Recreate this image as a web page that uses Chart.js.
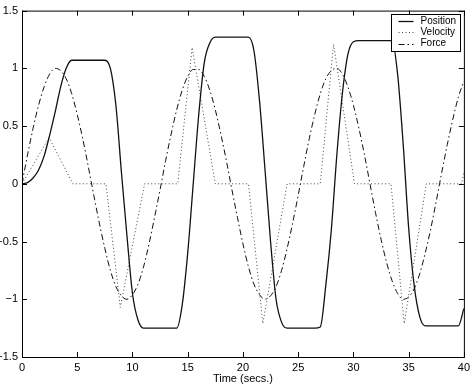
<!DOCTYPE html>
<html>
<head>
<meta charset="utf-8">
<script src="https://cdn.jsdelivr.net/npm/chart.js@4"></script>
<style>
  html, body { margin: 0; padding: 0; background: #fff; }
  #wrap { width: 474px; height: 386px; }
</style>
</head>
<body>
<div id="wrap"><canvas id="plot" width="474" height="386"></canvas></div>
<script>
// sample times (s) for position and force
const timeGrid = [
  0, 0.5, 1, 1.5, 2, 2.5, 3, 3.5, 4, 4.5,
  5, 5.5, 6, 6.5, 7, 7.5, 8, 8.5, 9, 9.5,
  10, 10.5, 11, 11.5, 12, 12.5, 13, 13.5, 14, 14.5,
  15, 15.5, 16, 16.5, 17, 17.5, 18, 18.5, 19, 19.5,
  20, 20.5, 21, 21.5, 22, 22.5, 23, 23.5, 24, 24.5,
  25, 25.5, 26, 26.5, 27, 27.5, 28, 28.5, 29, 29.5,
  30, 30.5, 31, 31.5, 32, 32.5, 33, 33.5, 34, 34.5,
  35, 35.5, 36, 36.5, 37, 37.5, 38, 38.5, 39, 39.5,
  40
];

const positionVals = [
  0, 0.01, 0.05, 0.12, 0.24, 0.42, 0.62, 0.84, 1.00, 1.07,
  1.07, 1.07, 1.07, 1.07, 1.07, 1.07, 1.00, 0.68, 0.10, -0.45,
  -0.95, -1.18, -1.25, -1.25, -1.25, -1.25, -1.25, -1.25, -1.25, -1.05,
  -0.60, 0.00, 0.60, 1.05, 1.22, 1.27, 1.27, 1.27, 1.27, 1.27,
  1.27, 1.27, 1.15, 0.72, 0.12, -0.50, -1.00, -1.20, -1.25, -1.25,
  -1.25, -1.25, -1.25, -1.25, -1.24, -0.88, -0.40, 0.25, 0.78, 1.12,
  1.23, 1.24, 1.24, 1.24, 1.24, 1.24, 1.24, 1.24, 0.95, 0.35,
  -0.38, -0.88, -1.15, -1.23, -1.23, -1.23, -1.23, -1.23, -1.23, -1.23,
  -1.08
];

const forceVals = [
  0, 0.25, 0.48, 0.68, 0.84, 0.95, 1.00, 0.98, 0.91, 0.78,
  0.60, 0.39, 0.15, -0.10, -0.34, -0.56, -0.75, -0.89, -0.97, -1.00,
  -0.96, -0.87, -0.72, -0.52, -0.29, -0.05, 0.20, 0.43, 0.64, 0.81,
  0.93, 0.99, 0.99, 0.93, 0.81, 0.64, 0.43, 0.20, -0.05, -0.29,
  -0.52, -0.72, -0.87, -0.96, -1.00, -0.97, -0.89, -0.75, -0.56, -0.34,
  -0.10, 0.15, 0.39, 0.60, 0.78, 0.91, 0.98, 1.00, 0.95, 0.84,
  0.68, 0.48, 0.25, 0.00, -0.25, -0.48, -0.68, -0.84, -0.95, -1.00,
  -0.98, -0.91, -0.78, -0.60, -0.39, -0.15, 0.10, 0.34, 0.56, 0.75,
  0.89
];

// velocity is piecewise linear, so only its corners
const velocityTimes = [0, 2.45, 4.6, 7.6, 8.9, 11.1, 14.1, 15.4, 17.5, 20.5, 21.8, 24.0, 27.0, 28.2, 30.1, 33.4, 34.6, 36.6, 39.8, 40];
const velocityVals  = [0, 0.40, 0, 0, -1.07, 0, 0, 1.18, 0, 0, -1.21, 0, 0, 1.21, 0, 0, -1.21, 0, 0, 0.10];

const xTicks = [0, 5, 10, 15, 20, 25, 30, 35, 40];
const yTicks = [-1.5, -1, -0.5, 0, 0.5, 1, 1.5];
const seriesNames = ['Position', 'Velocity', 'Force'];

const FONT = '"Liberation Sans", Arial, sans-serif';

function pairs(xs, ys) {
  return xs.map((x, i) => ({ x: x, y: ys[i] }));
}

// box round the plot, ticks pointing inward, and the legend
const framePlugin = {
  id: 'frame',
  afterDraw(chart) {
    const ctx = chart.ctx;
    const a = chart.chartArea;
    const xs = chart.scales.x, ys = chart.scales.y;
    ctx.save();
    ctx.strokeStyle = '#000';
    ctx.lineWidth = 1;
    ctx.setLineDash([]);
    ctx.strokeRect(a.left + 0.5, a.top + 0.5, a.right - a.left, a.bottom - a.top);
    const tl = 5;
    ctx.beginPath();
    xTicks.forEach(v => {
      const px = Math.round(xs.getPixelForValue(v)) + 0.5;
      ctx.moveTo(px, a.bottom); ctx.lineTo(px, a.bottom - tl);
      ctx.moveTo(px, a.top); ctx.lineTo(px, a.top + tl);
    });
    yTicks.forEach(v => {
      const py = Math.round(ys.getPixelForValue(v)) + 0.5;
      ctx.moveTo(a.left, py); ctx.lineTo(a.left + tl, py);
      ctx.moveTo(a.right, py); ctx.lineTo(a.right - tl, py);
    });
    ctx.stroke();

    // legend
    const bx = 391.5, by = 14.5, bw = 69, bh = 37;
    ctx.fillStyle = '#fff';
    ctx.fillRect(bx, by, bw, bh);
    ctx.strokeRect(bx, by, bw, bh);
    ctx.font = '10px ' + FONT;
    ctx.textBaseline = 'middle';
    ctx.textAlign = 'left';
    chart.data.datasets.forEach((ds, i) => {
      const y = by + 6.5 + i * 11.3;
      ctx.strokeStyle = ds.borderColor;
      ctx.lineWidth = ds.borderWidth;
      ctx.setLineDash(ds.borderDash || []);
      ctx.beginPath();
      ctx.moveTo(bx + 7, Math.round(y) + 0.5);
      ctx.lineTo(bx + 22, Math.round(y) + 0.5);
      ctx.stroke();
      ctx.fillStyle = '#000';
      ctx.fillText(ds.label, bx + 29, y);
    });
    ctx.restore();
  }
};

new Chart(document.getElementById('plot'), {
  type: 'line',
  data: {
    datasets: [
      {
        label: seriesNames[0],
        data: pairs(timeGrid, positionVals),
        borderColor: '#111',
        borderWidth: 1.3,
        pointRadius: 0,
        cubicInterpolationMode: 'monotone',
        fill: false,
      },
      {
        label: seriesNames[1],
        data: pairs(velocityTimes, velocityVals),
        borderColor: '#444',
        borderWidth: 1,
        borderDash: [1, 2.5],
        pointRadius: 0,
        tension: 0,
        fill: false,
      },
      {
        label: seriesNames[2],
        data: pairs(timeGrid, forceVals),
        borderColor: '#111',
        borderWidth: 1,
        borderDash: [6, 3, 1.5, 3],
        pointRadius: 0,
        cubicInterpolationMode: 'monotone',
        fill: false,
      },
    ],
  },
  options: {
    responsive: false,
    animation: false,
    layout: { padding: { top: 9, right: 9, left: 0, bottom: 0 } },
    plugins: { legend: { display: false }, tooltip: { enabled: false } },
    scales: {
      x: {
        type: 'linear',
        min: 0,
        max: 40,
        afterBuildTicks: s => { s.ticks = xTicks.map(v => ({ value: v })); },
        grid: { display: false, drawTicks: false },
        border: { display: false },
        ticks: { color: '#000', padding: 4, maxRotation: 0, font: { family: FONT, size: 11 } },
        title: { display: true, text: 'Time (secs.)', color: '#000', padding: { top: 0, bottom: 0 }, font: { family: FONT, size: 11 } },
        afterFit: s => { s.height = 29; },
      },
      y: {
        min: -1.5,
        max: 1.5,
        afterBuildTicks: s => { s.ticks = yTicks.map(v => ({ value: v })); },
        grid: { display: false, drawTicks: false },
        border: { display: false },
        ticks: {
          color: '#000',
          padding: 4,
          font: { family: FONT, size: 11 },
          callback: v => (v < 0 ? '\u2212' + String(-v) : String(v)),
        },
        afterFit: s => { s.width = 22; },
      },
    },
  },
  plugins: [framePlugin],
});
</script>
</body>
</html>
